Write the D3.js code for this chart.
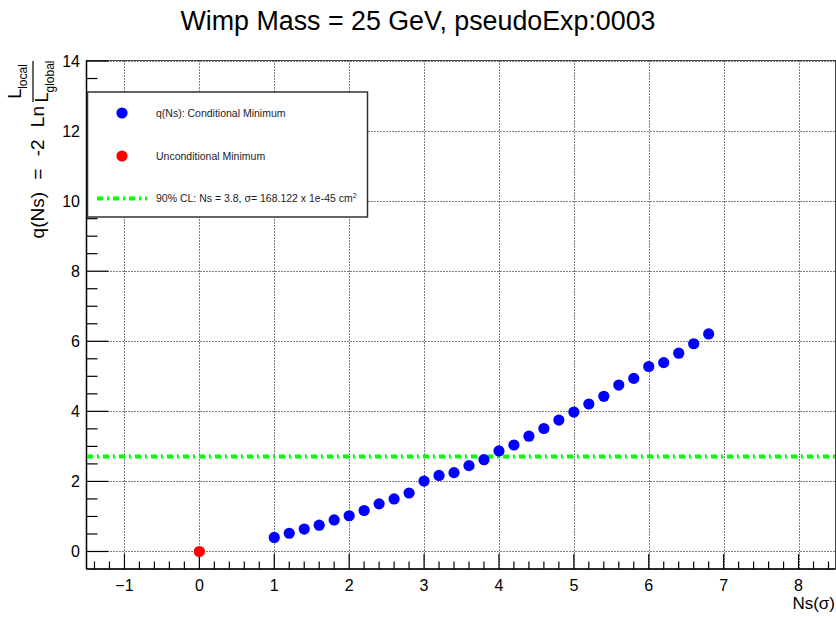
<!DOCTYPE html>
<html>
<head>
<meta charset="utf-8">
<script src="https://cdn.jsdelivr.net/npm/d3@7"></script>
<style>
  html, body { margin: 0; padding: 0; background: #fff; }
  svg { display: block; font-family: "Liberation Sans", Arial, Helvetica, sans-serif; }
</style>
</head>
<body>
<svg id="chart" width="836" height="618"></svg>
<script>
// ---- data ----
const titleText = "Wimp Mass = 25 GeV, pseudoExp:0003";
const xLabel = "Ns(σ)";
const condX = [1.0, 1.2, 1.4, 1.6, 1.8, 2.0, 2.2, 2.4, 2.6, 2.8,
               3.0, 3.2, 3.4, 3.6, 3.8, 4.0, 4.2, 4.4, 4.6, 4.8,
               5.0, 5.2, 5.4, 5.6, 5.8, 6.0, 6.2, 6.4, 6.6, 6.8];
const condY = [0.40, 0.52, 0.64, 0.75, 0.90, 1.02, 1.17, 1.36, 1.50, 1.67,
               2.01, 2.17, 2.25, 2.45, 2.62, 2.87, 3.04, 3.29, 3.51, 3.75,
               3.98, 4.21, 4.43, 4.75, 4.94, 5.28, 5.39, 5.66, 5.93, 6.21];
const uncondX = [0];
const uncondY = [0];
const clLevel = 2.71;
const xTicks = [-1, 0, 1, 2, 3, 4, 5, 6, 7, 8];
const yTicks = [0, 2, 4, 6, 8, 10, 12, 14];
const legendLabels = ["q(Ns): Conditional Minimum", "Unconditional Minimum", "90% CL: Ns = 3.8, σ= 168.122 x 1e-45 cm"];

// ---- layout ----
const svg = d3.select("#chart");
const x = d3.scaleLinear().domain([-1.5, 8.5]).range([87, 836]);
const y = d3.scaleLinear().domain([-0.5, 14]).range([569, 61]);
const L = 86.5, R = 835.5, T = 60.5, B = 569;

// grid
const grid = svg.append("g").attr("stroke", "#000").attr("stroke-width", 1).attr("stroke-dasharray", "1,2");
grid.selectAll("line.v").data(xTicks).join("line")
  .attr("x1", d => Math.round(x(d)) + 0.5).attr("x2", d => Math.round(x(d)) + 0.5)
  .attr("y1", T).attr("y2", B);
grid.selectAll("line.h").data(yTicks).join("line")
  .attr("x1", L).attr("x2", R)
  .attr("y1", d => Math.round(y(d)) + 0.5).attr("y2", d => Math.round(y(d)) + 0.5);

// frame
svg.append("rect").attr("x", L).attr("y", T).attr("width", R - L).attr("height", B - T)
  .attr("fill", "none").attr("stroke", "#444").attr("stroke-width", 1);

// x axis ticks (drawn upward, inside)
const xMinor = d3.range(-1.4, 8.45, 0.2).map(v => Math.round(v * 10) / 10);
const ax = svg.append("g").attr("stroke", "#000").attr("stroke-width", 1.2);
ax.selectAll("line.mi").data(xMinor).join("line")
  .attr("x1", d => x(d)).attr("x2", d => x(d))
  .attr("y1", B).attr("y2", d => B - (Number.isInteger(d) ? 15 : 7.5));
ax.append("line").attr("x1", L).attr("x2", R).attr("y1", B).attr("y2", B).attr("stroke-width", 1.5);

// y axis ticks (drawn rightward, inside)
const yMinor = d3.range(0, 14.01, 0.5);
ax.selectAll("line.ymi").data(yMinor).join("line")
  .attr("x1", L).attr("x2", d => L + (d % 2 === 0 ? 22 : 11))
  .attr("y1", d => y(d)).attr("y2", d => y(d));
ax.append("line").attr("x1", L).attr("x2", L).attr("y1", T).attr("y2", B).attr("stroke-width", 1.5);

// tick labels
svg.append("g").selectAll("text").data(xTicks).join("text")
  .attr("x", d => x(d)).attr("y", 591)
  .attr("text-anchor", "middle").attr("font-size", 16).attr("fill", "#000")
  .text(d => d < 0 ? "\u2212" + Math.abs(d) : d);
svg.append("g").selectAll("text").data(yTicks).join("text")
  .attr("x", 80).attr("y", d => y(d) + 6)
  .attr("text-anchor", "end").attr("font-size", 16).attr("fill", "#000")
  .text(d => d);

// green CL line
svg.append("line")
  .attr("x1", x(-1.5)).attr("x2", x(8.5)).attr("y1", y(clLevel)).attr("y2", y(clLevel))
  .attr("stroke", "#00ff00").attr("stroke-width", 4).attr("stroke-dasharray", "6,4,2,4");

// points
svg.append("g").selectAll("circle").data(condX.map((v, i) => [v, condY[i]])).join("circle")
  .attr("cx", d => x(d[0])).attr("cy", d => y(d[1])).attr("r", 5.6).attr("fill", "#0000ff");
svg.append("g").selectAll("circle").data(uncondX.map((v, i) => [v, uncondY[i]])).join("circle")
  .attr("cx", d => x(d[0])).attr("cy", d => y(d[1])).attr("r", 5.6).attr("fill", "#ff0000");

// legend
const lg = svg.append("g");
lg.append("rect").attr("x", 87.5).attr("y", 92).attr("width", 280).attr("height", 125)
  .attr("fill", "#fff").attr("stroke", "#333").attr("stroke-width", 1.5);
lg.append("circle").attr("cx", 122).attr("cy", 113).attr("r", 5.6).attr("fill", "#0000ff");
lg.append("circle").attr("cx", 122).attr("cy", 156).attr("r", 5.6).attr("fill", "#ff0000");
lg.append("line").attr("x1", 97).attr("x2", 147).attr("y1", 198.5).attr("y2", 198.5)
  .attr("stroke", "#00ff00").attr("stroke-width", 4).attr("stroke-dasharray", "6,4,2,4");
const ly = [113, 156, 198.5];
legendLabels.forEach((t, i) => {
  const tx = lg.append("text").attr("x", 156).attr("y", ly[i] + 3.8)
    .attr("font-size", 10.5).attr("fill", "#222").text(t);
  if (i === 2) tx.append("tspan").attr("font-size", 7).attr("dy", -4).text("2");
});

// title
svg.append("text").attr("x", 418).attr("y", 30).attr("text-anchor", "middle")
  .attr("font-size", 26.8).attr("fill", "#000").text(titleText);

// x label
svg.append("text").attr("x", 835).attr("y", 609).attr("text-anchor", "end")
  .attr("font-size", 17).attr("fill", "#000").text(xLabel);

// y label (rotated) with fraction
const yl = svg.append("g").attr("transform", "translate(44,61) rotate(-90)").attr("fill", "#000");
yl.append("text").attr("x", -45).attr("y", 0).attr("text-anchor", "end").attr("font-size", 19)
  .attr("word-spacing", 7).text("q(Ns) = -2 Ln");
yl.append("line").attr("x1", -41).attr("x2", 0).attr("y1", -11).attr("y2", -11)
  .attr("stroke", "#000").attr("stroke-width", 1.2);
const num = yl.append("text").attr("x", -20.5).attr("y", -23).attr("text-anchor", "middle").attr("font-size", 18);
num.append("tspan").text("L");
num.append("tspan").attr("font-size", 12).attr("dy", 6).text("local");
const den = yl.append("text").attr("x", -20.5).attr("y", 4).attr("text-anchor", "middle").attr("font-size", 18);
den.append("tspan").text("L");
den.append("tspan").attr("font-size", 12).attr("dy", 6).text("global");
</script>
</body>
</html>
